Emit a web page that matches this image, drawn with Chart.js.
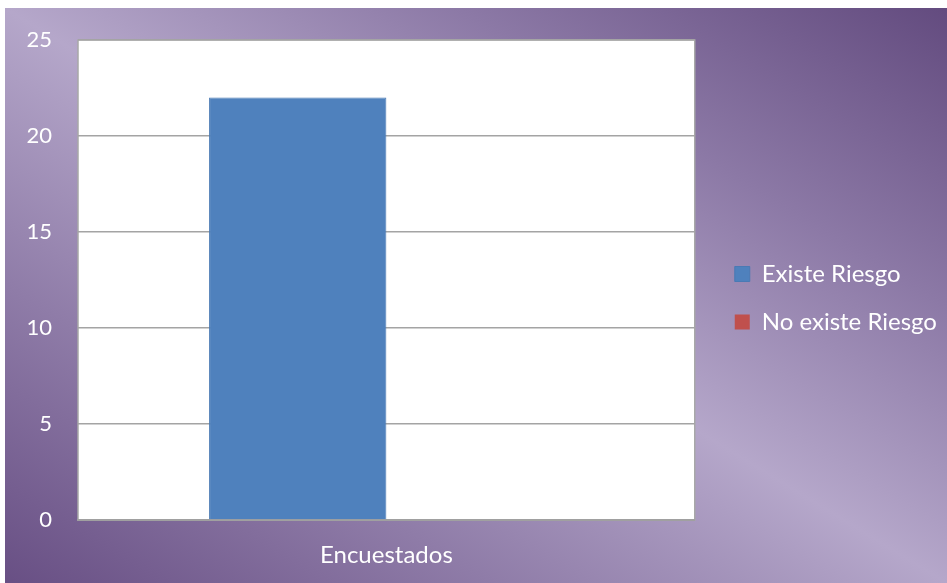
<!DOCTYPE html>
<html>
<head>
<meta charset="utf-8">
<script src="https://cdn.jsdelivr.net/npm/chart.js@4/dist/chart.umd.min.js"></script>
<style>
    html, body { margin: 0; padding: 0; background: #ffffff; }
    #frame {
        position: absolute;
        left: 5px;
        top: 8px;
        width: 942px;
        height: 575px;
        background: linear-gradient(to top right, #684f84 0%, #8f7ca8 26%, #b5a7ca 50%, #8c79a6 74%, #634b7f 100%);
    }
</style>
</head>
<body>
<div id="frame">
    <canvas id="riesgo" width="942" height="575"></canvas>
</div>
<script>
// data
const categories = ['Encuestados'];
const existeRiesgo = [22];
const noExisteRiesgo = [0];
const yTicks = [0, 5, 10, 15, 20, 25];

const tickFont = { family: 'Lato', size: 22 };
const labelFont = { family: 'Lato', size: 24 };

// white plot area with a thin grey frame
const plotBackground = {
    id: 'plotBackground',
    beforeDraw(chart) {
        const { ctx, chartArea: a } = chart;
        ctx.save();
        ctx.fillStyle = '#ffffff';
        ctx.fillRect(a.left, a.top, a.right - a.left, a.bottom - a.top);
        ctx.strokeStyle = '#a8a8a8';
        ctx.lineWidth = 1.5;
        ctx.strokeRect(a.left, a.top, a.right - a.left, a.bottom - a.top);
        ctx.restore();
    }
};

new Chart(document.getElementById('riesgo').getContext('2d'), {
    type: 'bar',
    data: {
        labels: categories,
        datasets: [{
            label: 'Existe Riesgo',
            data: existeRiesgo,
            backgroundColor: '#4f81bd',
            borderColor: '#4a7ab4',
            borderWidth: 1
        }, {
            label: 'No existe Riesgo',
            data: noExisteRiesgo,
            backgroundColor: '#c0504d',
            borderColor: '#b84b48',
            borderWidth: 0
        }]
    },
    options: {
        responsive: false,
        animation: false,
        categoryPercentage: 0.575,
        barPercentage: 1,
        layout: {
            padding: { top: 10, bottom: 5, left: 0, right: 1 }
        },
        plugins: {
            legend: {
                position: 'right',
                align: 'center',
                labels: {
                    color: '#ffffff',
                    font: labelFont,
                    boxWidth: 15,
                    boxHeight: 15,
                    padding: 24
                }
            },
            tooltip: { enabled: false }
        },
        scales: {
            x: {
                grid: { display: false },
                border: { display: true, color: '#a0a0a0', width: 2 },
                ticks: { color: '#ffffff', font: labelFont, padding: 13 },
                afterFit: (scale) => { scale.height = 58; }
            },
            y: {
                min: 0,
                max: 25,
                afterBuildTicks: (scale) => { scale.ticks = yTicks.map(v => ({ value: v })); },
                // invisible tick marks push the labels away from the plot
                grid: { color: '#a4a4a4', lineWidth: 1.5, drawTicks: true, tickLength: 20, tickColor: 'rgba(0,0,0,0)' },
                border: { display: false },
                ticks: { color: '#ffffff', font: tickFont, padding: 6 },
                afterFit: (scale) => { scale.width = 73; }
            },
            // hidden spacer axes: room above the plot and between plot and legend
            gapTop: {
                type: 'linear',
                position: 'top',
                display: false,
                afterFit: (scale) => { scale.height = 22; }
            },
            gapRight: {
                type: 'linear',
                position: 'right',
                display: false,
                afterFit: (scale) => { scale.width = 16; }
            }
        }
    },
    plugins: [plotBackground]
});
</script>
</body>
</html>
